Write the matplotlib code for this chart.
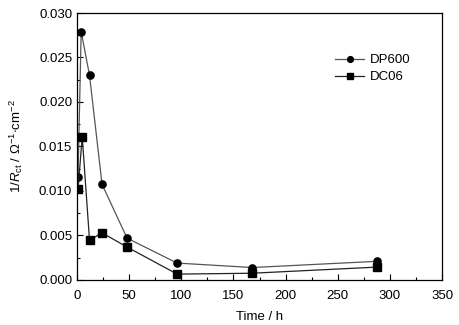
import matplotlib
matplotlib.use('Agg')
import matplotlib.pyplot as plt
from matplotlib.ticker import MultipleLocator

# data
time_dp = [1, 4, 12, 24, 48, 96, 168, 288]
dp600 = [0.0116, 0.0279, 0.0230, 0.01075, 0.0047, 0.0019, 0.0014, 0.0021]
time_dc = [1, 5, 12, 24, 48, 96, 168, 288]
dc06 = [0.0102, 0.0161, 0.00446, 0.0053, 0.0037, 0.00066, 0.00076, 0.00145]

plt.rcParams['font.family'] = ['Liberation Sans', 'DejaVu Sans']
plt.rcParams['mathtext.fontset'] = 'custom'
plt.rcParams['mathtext.rm'] = 'Liberation Sans'
plt.rcParams['mathtext.it'] = 'Liberation Sans:italic'

fig = plt.figure(figsize=(4.6, 3.25), dpi=100)
ax = fig.add_axes([0.1674, 0.1385, 0.7936, 0.8215])

ax.plot(time_dp, dp600, '-o', color='#555555', lw=0.9, ms=5.2,
        mfc='k', mec='k', label='DP600')
ax.plot(time_dc, dc06, '-s', color='#222222', lw=0.9, ms=5.2,
        mfc='k', mec='k', label='DC06')

ax.set_xlim(0, 350)
ax.set_ylim(0, 0.030)
ax.xaxis.set_major_locator(MultipleLocator(50))
ax.xaxis.set_minor_locator(MultipleLocator(25))
ax.yaxis.set_major_locator(MultipleLocator(0.005))
ax.yaxis.set_minor_locator(MultipleLocator(0.0025))
ax.yaxis.set_major_formatter(plt.FormatStrFormatter('%.3f'))
ax.tick_params(which='both', direction='in', labelsize=9.5, width=0.8)
ax.tick_params(which='major', length=4)
ax.tick_params(which='minor', length=2.5)
ax.tick_params(axis='x', pad=7)

for s in ax.spines.values():
    s.set_linewidth(0.9)

ax.set_xlabel('Time / h', fontsize=9.5, labelpad=7)
ax.set_ylabel(r'1/$\it{R}_{\rm ct}$ / $\Omega^{-1}$$\cdot$cm$^{-2}$', fontsize=9.5, labelpad=10)

ax.legend(loc='upper right', bbox_to_anchor=(0.945, 0.89), frameon=False,
          fontsize=9.5, handlelength=2.2, handletextpad=0.4, labelspacing=0.35,
          markerscale=0.8)

fig.savefig('out.png', dpi=100)
